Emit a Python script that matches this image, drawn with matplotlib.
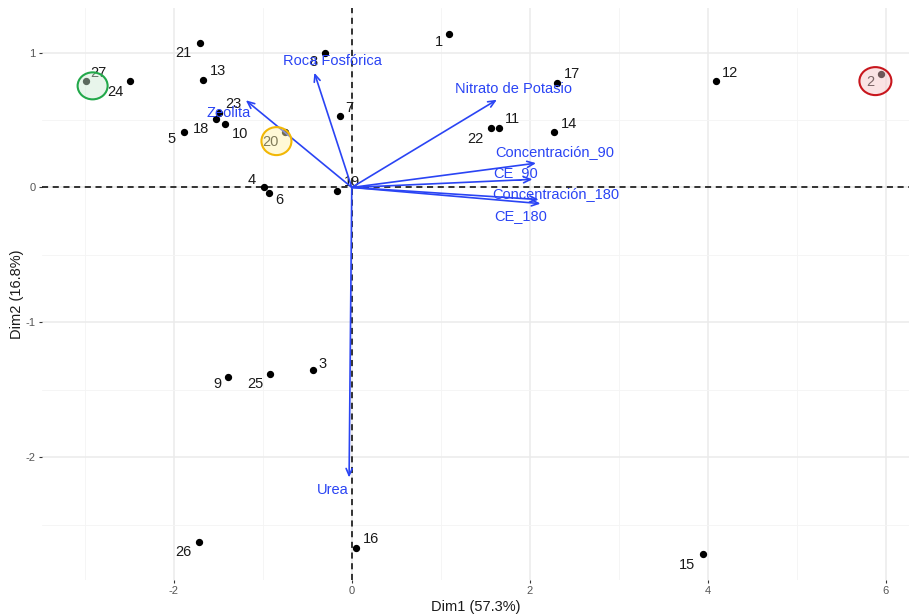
import matplotlib
matplotlib.use("Agg")
import matplotlib.pyplot as plt
from matplotlib.patches import Ellipse
from matplotlib.ticker import MultipleLocator

plt.rcParams["font.family"] = ["Liberation Sans", "DejaVu Sans"]
plt.rcParams["axes.unicode_minus"] = False

# ---- data ----
ind_labels = [str(i) for i in range(1, 28)]
dim1 = [1.09, 5.95, -0.44, -0.99, -1.89, -0.93, -0.13, -0.30, -1.39, -1.42,
        1.65, 4.09, -1.67, 2.27, 3.95, 0.05, 2.31, -1.52, -0.17, -0.745,
        -1.71, 1.56, -1.49, -2.49, -0.92, -1.72, -2.99]
dim2 = [1.14, 0.84, -1.356, 0.005, 0.41, -0.04, 0.53, 1.00, -1.405, 0.47,
        0.444, 0.79, 0.80, 0.41, -2.72, -2.67, 0.775, 0.51, -0.025, 0.41,
        1.07, 0.444, 0.55, 0.79, -1.38, -2.63, 0.79]

var_names = ["Roca Fosfórica", "Zeolita", "Nitrato de Potasio", "Concentración_90",
             "CE_90", "Concentración_180", "CE_180", "Urea"]
var_d1 = [-0.42, -1.19, 1.63, 2.07, 2.03, 2.10, 2.12, -0.03]
var_d2 = [0.85, 0.646, 0.65, 0.18, 0.06, -0.09, -0.12, -2.15]

x_label = "Dim1 (57.3%)"
y_label = "Dim2 (16.8%)"
x_ticks = [-2, 0, 2, 4, 6]
y_ticks = [-2, -1, 0, 1]

# highlighted individuals: label -> (edge, fill)
highlights = {"27": ("#22A84A", "#CDEBD3"),
              "20": ("#F2B705", "#FFF3A8"),
              "2": ("#C8161D", "#F4C2C4")}

# ---- label placement (pixel offsets) ----
ind_off = {"1": (-10, -8), "2": (-11, -8), "3": (10, 6), "4": (-12, 7), "5": (-12, -7),
           "6": (10, -7), "7": (9, 8), "8": (-12, -9), "9": (-11, -7), "10": (15, -10),
           "11": (14, 9), "12": (14, 8), "13": (15, 9), "14": (15, 8), "15": (-16, -11),
           "16": (15, 9), "17": (15, 9), "18": (-15, -10), "19": (15, 9), "20": (-15, -10),
           "21": (-16, -10), "22": (-15, -11), "23": (14, 9), "24": (-15, -11),
           "25": (-14, -10), "26": (-15, -10), "27": (13, 8)}
var_off = [(18, 12), (-17, -13), (17, 11), (19, 11), (-17, 6), (17, 6), (-20, -12), (-16, -13)]

blue = "#2A44F4"

fig = plt.figure(figsize=(9.09, 6.16), dpi=100)
ax = fig.add_axes([0.0462, 0.0584, 0.9538, 0.9286])
ax.set_xlim(-3.48, 6.26)
ax.set_ylim(-2.91, 1.33)

for s in ax.spines.values():
    s.set_visible(False)
ax.set_xticks(x_ticks)
ax.set_yticks(y_ticks)
ax.xaxis.set_minor_locator(MultipleLocator(1))
ax.yaxis.set_minor_locator(MultipleLocator(0.5))
ax.grid(True, which="major", color="#EBEBEB", linewidth=1.1)
ax.grid(True, which="minor", color="#F4F4F4", linewidth=0.6)
ax.tick_params(which="major", length=2.5, width=0.8, color="#333333",
               labelsize=8, labelcolor="#555555", pad=2)
ax.tick_params(which="minor", length=0)
ax.set_axisbelow(True)

ax.axhline(0, color="black", linestyle=(0, (4, 3)), linewidth=1.1, zorder=1)
ax.axvline(0, color="black", linestyle=(0, (4, 3)), linewidth=1.1, zorder=1)

ax.scatter(dim1, dim2, s=18, color="black", zorder=3)
for lab, x, y in zip(ind_labels, dim1, dim2):
    dx, dy = ind_off[lab]
    ax.annotate(lab, (x, y), xytext=(dx, dy), textcoords="offset pixels",
                ha="center", va="center", fontsize=10.5, color="#1a1a1a", zorder=4)

for name, x, y, (dx, dy) in zip(var_names, var_d1, var_d2, var_off):
    ax.annotate("", xy=(x, y), xytext=(0, 0),
                arrowprops=dict(arrowstyle="->,head_length=0.5,head_width=0.22",
                                color=blue, lw=1.2, shrinkA=0, shrinkB=0), zorder=5)
    ax.annotate(name, (x, y), xytext=(dx, dy), textcoords="offset pixels",
                ha="center", va="center", fontsize=10.5, color=blue, zorder=6)

px_x = 89.0
px_y = 135.0
circle_px = {"27": (7, -5, 30, 27), "20": (-9, -9, 30, 28), "2": (-6, -7, 32, 28)}
for lab, (edge, fill) in highlights.items():
    i = ind_labels.index(lab)
    ox, oy, w, h = circle_px[lab]
    cx = dim1[i] + ox / px_x
    cy = dim2[i] + oy / px_y
    e = Ellipse((cx, cy), w / px_x, h / px_y, facecolor=fill, edgecolor="none",
                alpha=0.45, zorder=7)
    ax.add_patch(e)
    e2 = Ellipse((cx, cy), w / px_x, h / px_y, facecolor="none", edgecolor=edge,
                 linewidth=1.5, zorder=8)
    ax.add_patch(e2)

ax.set_xlabel(x_label, fontsize=10.5, color="#1a1a1a", labelpad=3)
ax.set_ylabel(y_label, fontsize=10.5, color="#1a1a1a", labelpad=1)

fig.savefig("out.png", dpi=100)
